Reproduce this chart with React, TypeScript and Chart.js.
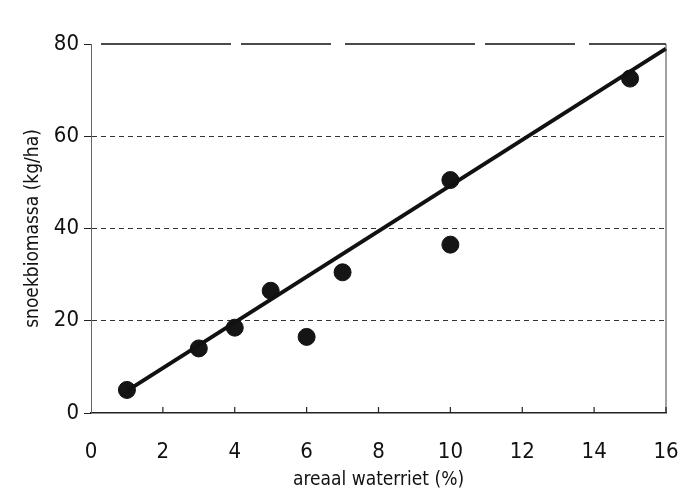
import React, { useEffect, useRef } from "react";
import { Chart, registerables } from "chart.js";

Chart.register(...registerables);

const waterrietPct = [1, 3, 4, 5, 6, 7, 10, 10, 15];
const snoekBiomassa = [5, 14, 18.5, 26.5, 16.5, 30.5, 50.5, 36.5, 72.5];
const fitX = [1, 16];
const fitY = [4.8, 79];
const xTitle = "areaal waterriet (%)";
const yTitle = "snoekbiomassa (kg/ha)";

const FONT = "'Liberation Sans Narrow', 'DejaVu Sans Condensed', 'Arial Narrow', sans-serif";

const framePlugin = {
  id: "frame",
  afterDraw(chart: any) {
    const { ctx, chartArea, scales } = chart;
    const x = scales.x;
    const y = scales.y;
    ctx.save();
    ctx.strokeStyle = "#111";
    ctx.lineWidth = 1.5;
    ctx.setLineDash([130, 10, 90, 14]);
    ctx.beginPath();
    const yTop = y.getPixelForValue(80);
    ctx.moveTo(chartArea.left + 10, yTop);
    ctx.lineTo(chartArea.right, yTop);
    ctx.stroke();
    ctx.setLineDash([]);
    ctx.lineWidth = 1;
    ctx.strokeStyle = "#444";
    ctx.beginPath();
    const xr = x.getPixelForValue(16);
    ctx.moveTo(xr, yTop);
    ctx.lineTo(xr, y.getPixelForValue(0));
    ctx.stroke();
    ctx.strokeStyle = "#222";
    ctx.lineWidth = 1.2;
    const yb = y.getPixelForValue(0);
    for (let v = 2; v <= 16; v += 2) {
      const px = x.getPixelForValue(v);
      ctx.beginPath();
      ctx.moveTo(px, yb);
      ctx.lineTo(px, yb - 6);
      ctx.stroke();
    }
    ctx.restore();
  },
};

export default function App() {
  const ref = useRef<HTMLCanvasElement | null>(null);
  useEffect(() => {
    if (!ref.current) return;
    const chart = new Chart(ref.current, {
      type: "scatter",
      data: {
        datasets: [
          {
            type: "line",
            data: fitX.map((v, i) => ({ x: v, y: fitY[i] })),
            borderColor: "#111",
            borderWidth: 4,
            pointRadius: 0,
            fill: false,
            clip: false,
          } as any,
          {
            type: "scatter",
            data: waterrietPct.map((v, i) => ({ x: v, y: snoekBiomassa[i] })),
            backgroundColor: "#151515",
            borderColor: "#111",
            borderWidth: 1,
            pointRadius: 8.5,
            clip: false,
          } as any,
        ],
      },
      options: {
        animation: false,
        responsive: true,
        maintainAspectRatio: false,
        layout: { padding: { top: 44, right: 30, left: 0, bottom: 0 } },
        plugins: { legend: { display: false }, tooltip: { enabled: false } },
        scales: {
          x: {
            type: "linear",
            min: 0,
            max: 16,
            ticks: {
              stepSize: 2,
              color: "#111",
              font: { family: FONT, size: 22 },
              padding: 0,
            },
            grid: {
              display: true,
              drawOnChartArea: false,
              drawTicks: true,
              tickLength: 26,
              color: "rgba(0,0,0,0)",
              tickColor: "rgba(0,0,0,0)",
            },
            border: { display: true, color: "#222", width: 1.5 },
            title: {
              display: true,
              text: xTitle,
              color: "#111",
              font: { family: FONT, size: 19, lineHeight: 1 },
              padding: { top: 0, bottom: -2 },
            },
            afterFit: (s: any) => {
              s.height = 75;
            },
          },
          y: {
            type: "linear",
            min: 0,
            max: 80,
            ticks: {
              stepSize: 20,
              color: "#111",
              font: { family: FONT, size: 22 },
              padding: 5,
            },
            grid: {
              color: (c: any) => {
                const v = c.tick && c.tick.value;
                return v === 20 || v === 40 || v === 60 ? "#333" : "rgba(0,0,0,0)";
              },
              tickColor: "#222",
              tickLength: 7,
              lineWidth: 1,
            },
            border: { display: true, color: "#666", width: 1, dash: [5, 4] },
            title: {
              display: true,
              text: yTitle,
              color: "#111",
              font: { family: FONT, size: 19, lineHeight: 1 },
              padding: { top: 24, bottom: 0 },
            },
            afterFit: (s: any) => {
              s.width = 91;
            },
          },
        },
      },
      plugins: [framePlugin],
    });
    return () => chart.destroy();
  }, []);
  return (
    <div style={{ position: "fixed", left: 0, top: 0, width: 696, height: 488, background: "#fff" }}>
      <canvas ref={ref} />
    </div>
  );
}
